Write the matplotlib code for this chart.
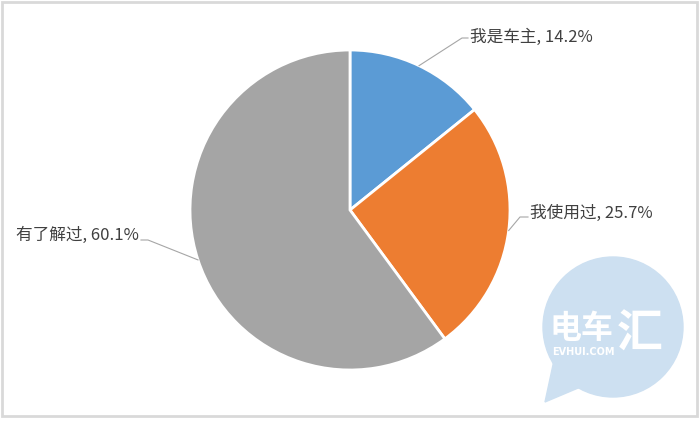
import numpy as np
import matplotlib
matplotlib.use("Agg")
import matplotlib.pyplot as plt
from matplotlib.patches import Circle, Polygon, Rectangle

labels = ["我是车主", "我使用过", "有了解过"]
shares = [14.2, 25.7, 60.1]
colors = ["#5b9bd5", "#ed7d31", "#a5a5a5"]

plt.rcParams["font.family"] = ["Noto Sans CJK SC", "DejaVu Sans"]

W, H = 700, 421
fig = plt.figure(figsize=(7, 4.21), dpi=100)
ax = fig.add_axes([0, 0, 1, 1])
ax.set_xlim(0, W)
ax.set_ylim(0, H)
ax.set_aspect("equal")
ax.axis("off")

# frame
ax.add_patch(Rectangle((2, 5), 695, 414, fill=False, edgecolor="#d9d9d9", linewidth=2))

cx, cy, r = 350, 211, 160
wedges, _ = ax.pie(shares, colors=colors, startangle=90, counterclock=False,
                   center=(cx, cy), radius=r,
                   wedgeprops={"linewidth": 2, "edgecolor": "white"})
ax.set_xlim(0, W)
ax.set_ylim(0, H)

# label layout: (elbow x, elbow y, text x, text y, ha)
layout = [
    (462, 383, 470, 384, "left"),
    (520, 204, 530, 208, "left"),
    (148, 181, 139, 186, "right"),
]
for w, lab, val, (ex, ey, tx, ty, ha) in zip(wedges, labels, shares, layout):
    ang = np.deg2rad((w.theta1 + w.theta2) / 2)
    px, py = cx + r * np.cos(ang), cy + r * np.sin(ang)
    hx = tx - 2 if ha == "left" else tx + 2
    ax.plot([px, ex, hx], [py, ey, ey], color="#a6a6a6", linewidth=0.8)
    ax.text(tx, ty, f"{lab}, {val}%", ha=ha, va="center", fontsize=12, color="#404040")

# watermark bubble
bub = "#cde0f1"
ax.add_patch(Circle((613, 94), 70, color=bub, zorder=5))
ax.add_patch(Polygon([(556, 70), (545, 19), (590, 38)], closed=True, color=bub, zorder=5))
ax.text(549, 92, "电车", fontsize=23, fontweight="bold", color="white", va="center", ha="left", zorder=6)
ax.text(617, 86, "汇", fontsize=33, fontweight="bold", color="white", va="center", ha="left", zorder=6)
ax.text(552, 69, "EVHUI.COM", fontsize=7, fontweight="bold", color="white",
        family="DejaVu Sans", va="center", ha="left", zorder=6)

fig.savefig("out.png", dpi=100)
